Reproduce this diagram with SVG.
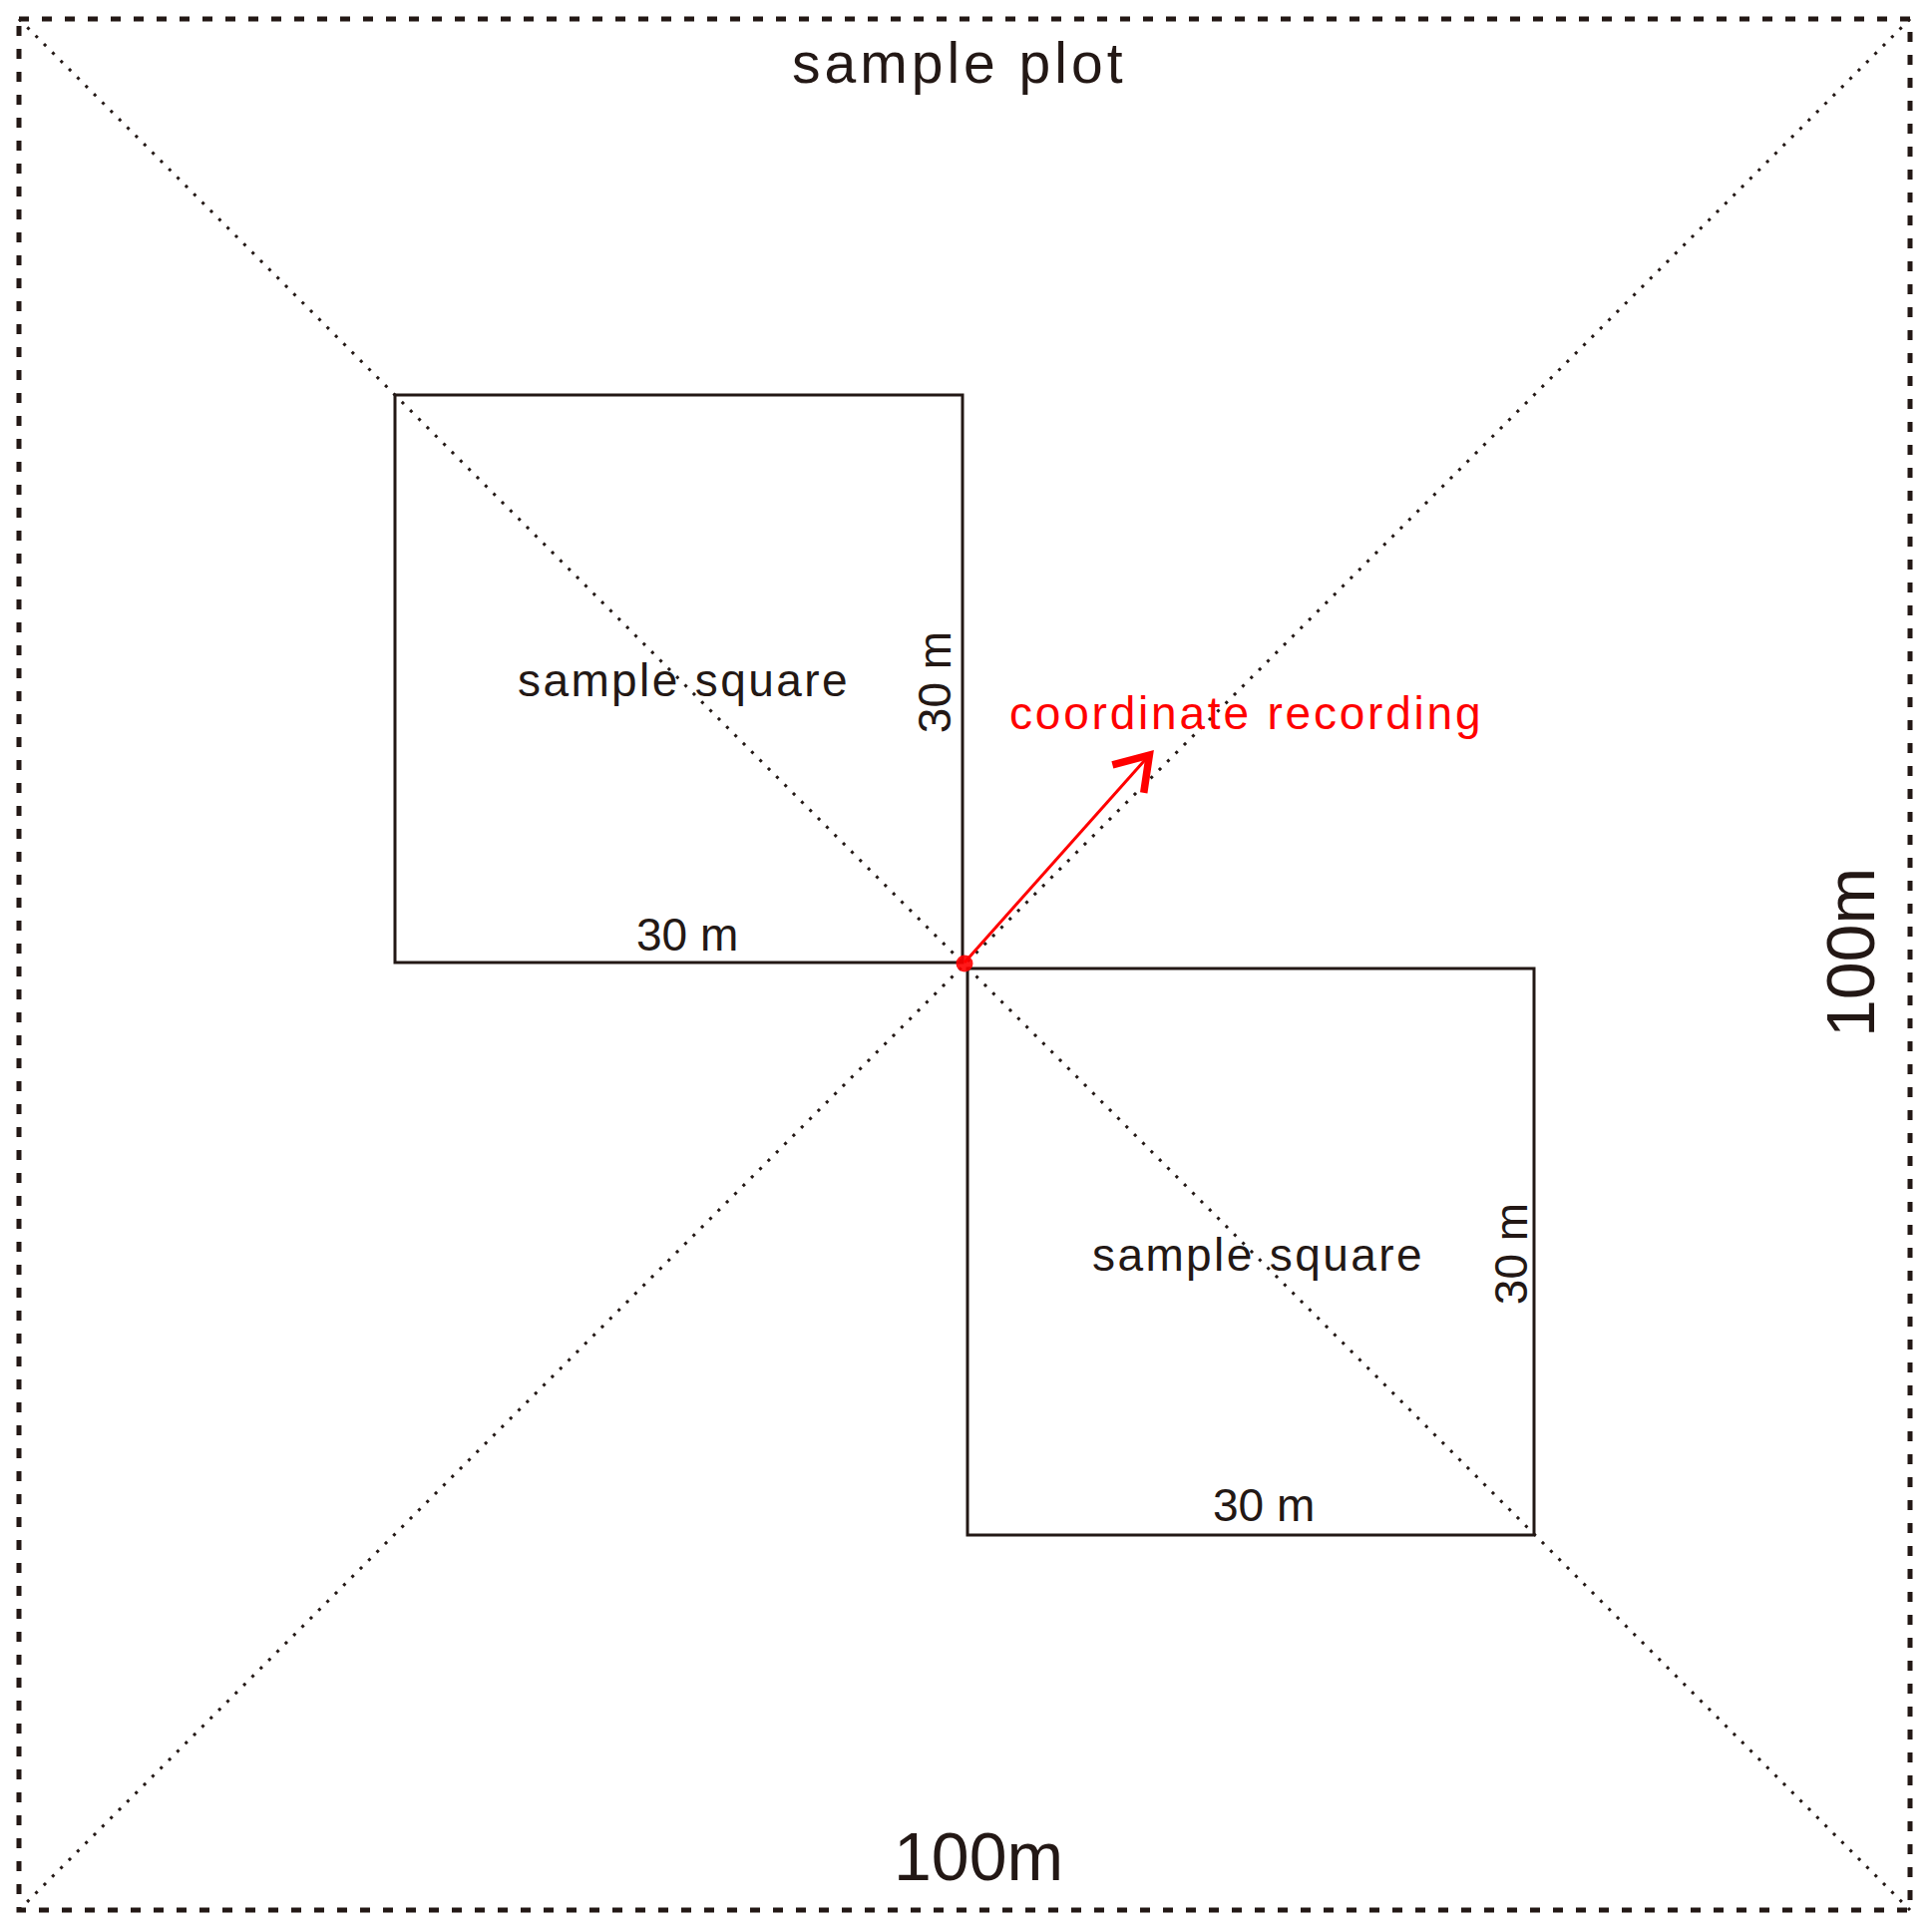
<svg xmlns="http://www.w3.org/2000/svg" width="1937" height="1937" viewBox="0 0 1937 1937">
<style>
.frame{fill:none;stroke:#231815;stroke-width:5;stroke-dasharray:10 13}
.diag{fill:none;stroke:#231815;stroke-width:3;stroke-dasharray:3 8.8}
.sq{fill:none;stroke:#231815;stroke-width:3}
.t{font-family:"Liberation Sans",Arial,sans-serif;fill:#231815}
.lbl{font-size:46px;letter-spacing:2.4px}
.dim{font-size:46px}
.big{font-size:68px}
.red{fill:#ff0000}
</style>
<defs>
<marker id="arr" markerUnits="userSpaceOnUse" viewBox="-50 -30 60 60" markerWidth="60" markerHeight="60" refX="0" refY="0" orient="auto">
<path d="M-36,-21 L-4,0 L-36,21" fill="none" stroke="#ff0000" stroke-width="7.5" stroke-linejoin="miter" stroke-miterlimit="10"/>
</marker>
</defs>
<rect width="1937" height="1937" fill="#ffffff"/>
<g id="plot">
<rect class="frame" x="19" y="19" width="1896" height="1896"/>
<text class="t" x="794" y="83" style="font-size:57px;letter-spacing:4px">sample plot</text>
<text class="t big" x="896" y="1885">100m</text>
<text class="t big" x="1879" y="955" text-anchor="middle" transform="rotate(-90 1879 955)">100m</text>
</g>
<g id="diagonals">
<line class="diag" x1="19" y1="19" x2="1915" y2="1915"/>
<line class="diag" x1="1915" y1="19" x2="19" y2="1915"/>
</g>
<g id="square1">
<rect class="sq" x="396" y="396" width="569" height="569"/>
<text class="t lbl" x="519" y="698">sample square</text>
<text class="t dim" x="638" y="953">30 m</text>
<text class="t dim" x="953" y="684" text-anchor="middle" transform="rotate(-90 953 684)">30 m</text>
</g>
<g id="square2">
<rect class="sq" x="970" y="971" width="568" height="568"/>
<text class="t lbl" x="1095" y="1274">sample square</text>
<text class="t dim" x="1216" y="1525">30 m</text>
<text class="t dim" x="1531" y="1257" text-anchor="middle" transform="rotate(-90 1531 1257)">30 m</text>
</g>
<g id="connectors">
<line x1="967" y1="965" x2="1155" y2="754" stroke="#ff0000" stroke-width="3" marker-end="url(#arr)"/>
</g>
<g id="point">
<circle cx="967" cy="966" r="8.5" fill="#ff0000" opacity="0.9"/>
<text class="t red" x="1012" y="731" style="font-size:46px;letter-spacing:2.8px">coordinate recording</text>
</g>
</svg>
